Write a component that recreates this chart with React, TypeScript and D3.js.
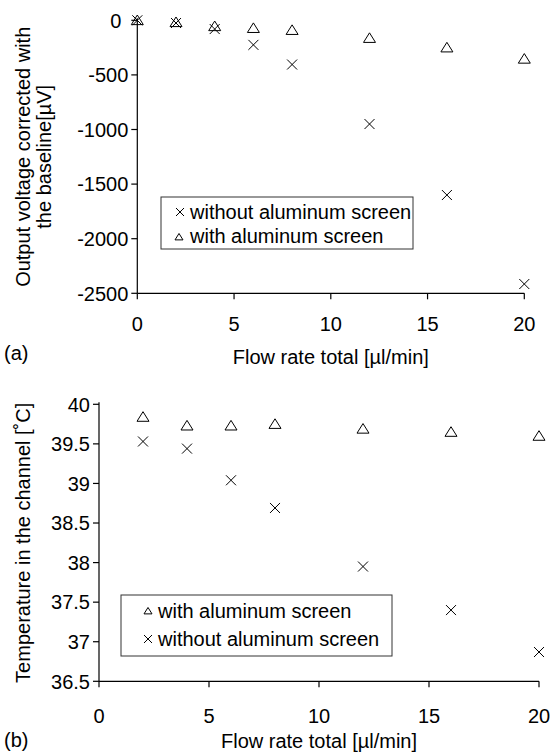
import React from "react";
import * as d3 from "d3";

// Flow rate settings (µl/min)
const flowTop = [0, 2, 4, 6, 8, 12, 16, 20];
const flowBottom = [2, 4, 6, 8, 12, 16, 20];

// (a) output voltage corrected with the baseline [µV]
const voltWithout = [0, -25, -80, -225, -405, -950, -1600, -2415];
const voltWith = [0, -18, -55, -72, -90, -163, -250, -353];

// (b) temperature in the channel [°C]
const tempWith = [39.84, 39.73, 39.73, 39.75, 39.69, 39.65, 39.6];
const tempWithout = [39.53, 39.44, 39.04, 38.69, 37.95, 37.4, 36.87];

const xTicks = [0, 5, 10, 15, 20];
const voltTicks = [0, -500, -1000, -1500, -2000, -2500];
const tempTicks = [40, 39.5, 39, 38.5, 38, 37.5, 37, 36.5];

const FONT = "'Liberation Sans', Arial, Helvetica, sans-serif";
const FS = 20;

function Cross({ x, y, r = 5 }: { x: number; y: number; r?: number }) {
  return (
    <path
      d={`M${x - r},${y - r}L${x + r},${y + r}M${x - r},${y + r}L${x + r},${y - r}`}
      stroke="#000"
      strokeWidth={1}
      fill="none"
    />
  );
}

function Tri({ x, y, r = 6 }: { x: number; y: number; r?: number }) {
  const h = r * 1.6;
  return (
    <path
      d={`M${x},${y - h * 0.55}L${x + r},${y + h * 0.45}L${x - r},${y + h * 0.45}Z`}
      stroke="#000"
      strokeWidth={1}
      fill="none"
    />
  );
}

type AxisProps = {
  x: d3.ScaleLinear<number, number>;
  y: d3.ScaleLinear<number, number>;
  yTicks: number[];
  labelDy: number;
  zeroShift?: number;
};

function Axes({ x, y, yTicks, labelDy, zeroShift = 0 }: AxisProps) {
  const [x0, x1] = x.range();
  const [yb, yt] = y.range();
  return (
    <g fontFamily={FONT} fontSize={FS} fill="#000">
      <line x1={x0} x2={x0} y1={yt - 2} y2={yb} stroke="#000" strokeWidth={1.2} />
      <line x1={x0} x2={x1} y1={yb} y2={yb} stroke="#000" strokeWidth={1.2} />
      {yTicks.map((t) => (
        <g key={"y" + t}>
          <line x1={x0 - 6} x2={x0} y1={y(t)} y2={y(t)} stroke="#000" strokeWidth={1.2} />
          <text
            x={x0 - 9 - (t === 0 ? zeroShift : 0)}
            y={y(t)}
            dy="0.36em"
            textAnchor="end"
          >
            {String(t)}
          </text>
        </g>
      ))}
      {xTicks.map((t) => (
        <g key={"x" + t}>
          <line x1={x(t)} x2={x(t)} y1={yb} y2={yb + 6} stroke="#000" strokeWidth={1.2} />
          <text x={x(t)} y={yb + labelDy} textAnchor="middle">
            {t}
          </text>
        </g>
      ))}
    </g>
  );
}

export default function App() {
  const xA = d3.scaleLinear().domain([0, 20]).range([137.3, 524.3]);
  const yA = d3.scaleLinear().domain([-2500, 0]).range([293.3, 20.3]);
  const xB = d3.scaleLinear().domain([0, 20]).range([99, 539]);
  const yB = d3.scaleLinear().domain([36.5, 40]).range([681.3, 404.3]);

  const midA = (yA.range()[0] + yA.range()[1]) / 2;
  const midB = (yB.range()[0] + yB.range()[1]) / 2;

  return (
    <svg
      width={554}
      height={753}
      style={{ position: "absolute", left: 0, top: 0, background: "#fff" }}
    >
      <rect width={554} height={753} fill="#fff" />

      {/* (a) output voltage */}
      <Axes x={xA} y={yA} yTicks={voltTicks} labelDy={38} zeroShift={7} />
      {flowTop.map((f, i) => (
        <Tri key={"ta" + i} x={xA(f)} y={yA(voltWith[i])} />
      ))}
      {flowTop.map((f, i) => (
        <Cross key={"ca" + i} x={xA(f)} y={yA(voltWithout[i])} />
      ))}
      <g fontFamily={FONT} fontSize={FS}>
        <text transform={`translate(30,${midA}) rotate(-90)`} textAnchor="middle">
          Output voltage corrected with
        </text>
        <text transform={`translate(51,${midA}) rotate(-90)`} textAnchor="middle">
          the baseline[µV]
        </text>
        <text x={4} y={360}>(a)</text>
        <text x={(xA.range()[0] + xA.range()[1]) / 2} y={364} textAnchor="middle">
          Flow rate total [µl/min]
        </text>
        <rect x={161} y={197} width={252} height={52} fill="#fff" stroke="#333" strokeWidth={1} />
        <Cross x={180} y={212} r={4} />
        <text x={190} y={219}>without aluminum screen</text>
        <Tri x={179} y={237} r={4} />
        <text x={190} y={243}>with aluminum screen</text>
      </g>

      {/* (b) temperature */}
      <Axes x={xB} y={yB} yTicks={tempTicks} labelDy={42} />
      {flowBottom.map((f, i) => (
        <Tri key={"tb" + i} x={xB(f)} y={yB(tempWith[i])} />
      ))}
      {flowBottom.map((f, i) => (
        <Cross key={"cb" + i} x={xB(f)} y={yB(tempWithout[i])} />
      ))}
      <g fontFamily={FONT} fontSize={FS}>
        <text transform={`translate(30,${midB}) rotate(-90)`} textAnchor="middle">
          Temperature in the channel [˚C]
        </text>
        <text x={4} y={747}>(b)</text>
        <text x={(xB.range()[0] + xB.range()[1]) / 2} y={748} textAnchor="middle">
          Flow rate total [µl/min]
        </text>
        <rect x={121} y={595} width={271} height={61} fill="#fff" stroke="#333" strokeWidth={1} />
        <Tri x={148} y={611} r={4} />
        <text x={158} y={618}>with aluminum screen</text>
        <Cross x={148} y={639} r={4} />
        <text x={158} y={646}>without aluminum screen</text>
      </g>
    </svg>
  );
}
